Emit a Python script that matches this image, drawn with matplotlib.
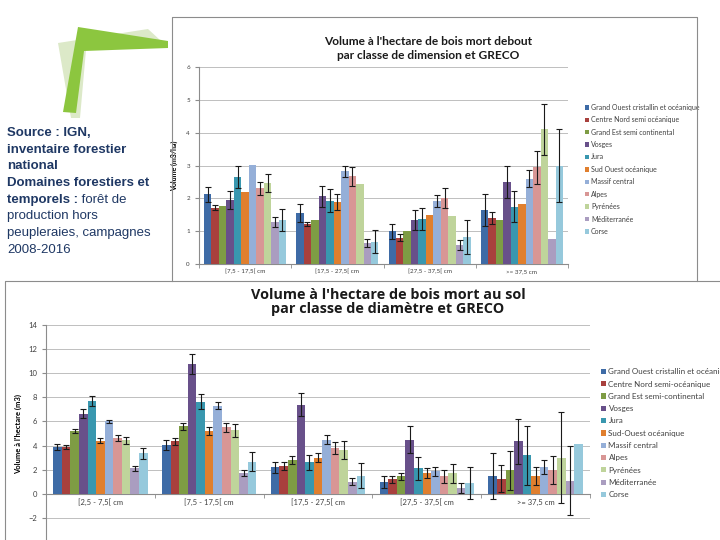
import numpy as np
import matplotlib
matplotlib.use('Agg')
import matplotlib.pyplot as plt
from matplotlib.patches import Polygon
from matplotlib.lines import Line2D

plt.rcParams['font.family'] = ['Lato', 'DejaVu Sans']

W, H = 720, 540
def fx(x): return x / W
def fy(y): return 1 - y / H

series = ["Grand Ouest cristallin et océanique", "Centre Nord semi océanique",
          "Grand Est semi continental", "Vosges", "Jura", "Sud Ouest océanique",
          "Massif central", "Alpes", "Pyrénées", "Méditerranée", "Corse"]
series_sol = ["Grand Ouest cristallin et océanique", "Centre Nord semi-océanique",
              "Grand Est semi-continental", "Vosges", "Jura", "Sud-Ouest océanique",
              "Massif central", "Alpes", "Pyrénées", "Méditerranée", "Corse"]
colors = ['#3E6BA6', '#A8403D', '#7E9C44', '#68508A', '#3997AF', '#E07F2E',
          '#95AFD8', '#D89695', '#BFD49B', '#AA9DC0', '#96C9DC']

# standing dead wood (m3/ha), one list per category, in series order
cats_debout = ["[7,5 - 17,5[ cm", "[17,5 - 27,5[ cm", "[27,5 - 37,5[ cm", ">= 37,5 cm"]
debout_vals = [
    [2.13, 1.72, 1.76, 1.95, 2.65, 2.18, 3.03, 2.31, 2.47, 1.27, 1.33],
    [1.55, 1.22, 1.33, 2.07, 1.93, 1.88, 2.83, 2.67, 2.43, 0.65, 0.68],
    [1.00, 0.80, 0.99, 1.35, 1.37, 1.50, 1.93, 2.00, 1.47, 0.57, 0.82],
    [1.65, 1.40, 1.33, 2.50, 1.75, 1.82, 2.60, 2.95, 4.10, 0.77, 3.00],
]
debout_err = [
    [0.23, 0.08, 0.00, 0.28, 0.35, 0.00, 0.00, 0.20, 0.28, 0.15, 0.33],
    [0.27, 0.07, 0.00, 0.32, 0.35, 0.24, 0.17, 0.28, 0.00, 0.12, 0.35],
    [0.23, 0.10, 0.00, 0.30, 0.33, 0.00, 0.18, 0.30, 0.00, 0.15, 0.52],
    [0.48, 0.17, 0.00, 0.50, 0.47, 0.00, 0.25, 0.50, 0.77, 0.00, 1.12],
]

# lying dead wood (m3/ha)
cats_sol = ["[2,5 - 7,5[ cm", "[7,5 - 17,5[ cm", "[17,5 - 27,5[ cm", "[27,5 - 37,5[ cm", ">= 37,5 cm"]
sol_vals = [
    [3.90, 3.90, 5.20, 6.65, 7.70, 4.40, 6.00, 4.60, 4.45, 2.10, 3.35],
    [4.05, 4.35, 5.60, 10.75, 7.65, 5.20, 7.30, 5.50, 5.25, 1.75, 2.65],
    [2.20, 2.30, 2.80, 7.40, 2.60, 3.00, 4.50, 3.80, 3.60, 1.00, 1.50],
    [1.00, 1.20, 1.45, 4.50, 2.10, 1.75, 1.85, 1.45, 1.70, 0.50, 0.90],
    [1.50, 1.25, 1.95, 4.35, 3.20, 1.50, 2.20, 2.00, 3.00, 1.10, 4.15],
]
sol_err = [
    [0.25, 0.15, 0.15, 0.35, 0.45, 0.20, 0.15, 0.25, 0.30, 0.20, 0.45],
    [0.45, 0.30, 0.30, 0.85, 0.65, 0.35, 0.30, 0.40, 0.55, 0.25, 0.80],
    [0.45, 0.30, 0.35, 0.95, 0.60, 0.40, 0.35, 0.50, 0.75, 0.30, 1.05],
    [0.50, 0.30, 0.30, 1.10, 0.95, 0.40, 0.40, 0.55, 0.80, 0.40, 1.35],
    [1.90, 1.10, 1.60, 1.85, 2.45, 0.75, 0.60, 1.15, 3.80, 2.85, 0.00],
]

fig = plt.figure(figsize=(7.2, 5.4), dpi=100)

# logo
light = [(58, 43), (148, 29), (160, 40), (86, 50), (80, 118), (71, 118)]
green = [(78, 27), (168, 41), (168, 48), (84, 51), (76, 113), (63, 112)]
fig.patches.append(Polygon([(fx(x), fy(y)) for x, y in light], closed=True,
                           transform=fig.transFigure, facecolor='#DCE9C8', edgecolor='none'))
fig.patches.append(Polygon([(fx(x), fy(y)) for x, y in green], closed=True,
                           transform=fig.transFigure, facecolor='#8CC63F', edgecolor='none'))

# panel borders
def fline(xs, ys):
    fig.lines.append(Line2D([fx(x) for x in xs], [fy(y) for y in ys],
                            transform=fig.transFigure, color='#8C8C8C', lw=0.8))
fline([172, 172, 697, 697], [281, 17, 17, 281])
fline([5, 5, 720], [545, 281, 281])

# source text
navy = '#1F3864'
src_font = ['Liberation Sans', 'DejaVu Sans']
lines = [("Source : IGN,", 'bold'), ("inventaire forestier", 'bold'), ("national", 'bold'),
         ("Domaines forestiers et", 'bold'), ("temporels :", 'bold'),
         ("production hors", 'normal'), ("peupleraies, campagnes", 'normal'),
         ("2008-2016", 'normal')]
tag = None
for i, (s, w) in enumerate(lines):
    t = fig.text(fx(7), fy(133 + i * 16.7), s, fontsize=9.5, fontweight=w, color=navy,
                 va='center', ha='left', family=src_font)
    if s == "temporels :":
        tag = t
rest = fig.text(0, fy(133 + 4 * 16.7), " forêt de", fontsize=9.5, color=navy,
                va='center', ha='left', family=src_font)

def bars(ax, cats, vals, errs, width, labels):
    vals = np.array(vals)
    errs = np.array(errs)
    x = np.arange(len(cats))
    n = len(labels)
    for j in range(n):
        pos = x - width * n / 2 + width * (j + 0.5)
        ax.bar(pos, vals[:, j], width, color=colors[j], zorder=3, label=labels[j])
        e = errs[:, j]
        m = e > 0
        ax.errorbar(pos[m], vals[m, j], yerr=e[m], fmt='none', ecolor='#1a1a1a',
                    elinewidth=0.8, capsize=2, capthick=0.8, zorder=4)
    ax.set_xlim(-0.5, len(cats) - 0.5)
    ax.set_xticks(x)
    ax.set_xticklabels(cats)
    ax.set_xticks(np.arange(len(cats) + 1) - 0.5, minor=True)
    ax.tick_params(axis='x', which='major', length=0, colors='#404040')
    ax.tick_params(axis='x', which='minor', length=3, color='#8C8C8C')
    ax.tick_params(axis='y', length=3, color='#8C8C8C', colors='#404040')
    ax.grid(axis='y', color='#BFBFBF', lw=0.7, zorder=0)
    for s in ['top', 'right']:
        ax.spines[s].set_visible(False)
    for s in ['left', 'bottom']:
        ax.spines[s].set_color('#8C8C8C')
        ax.spines[s].set_linewidth(0.8)

# top chart
ax1 = fig.add_axes([fx(199), fy(264), fx(568) - fx(199), fy(67) - fy(264)])
bars(ax1, cats_debout, debout_vals, debout_err, 0.081, series)
ax1.set_ylim(0, 6)
ax1.set_yticks(range(0, 7))
ax1.tick_params(labelsize=4.5)
ax1.set_ylabel("Volume (m3/ha)", fontsize=5, fontweight='bold', labelpad=6)
fig.text(fx(428), fy(48.5), "Volume à l'hectare de bois mort debout\npar classe de dimension et GRECO",
         fontsize=8.6, fontweight='bold', ha='center', va='center', multialignment='center',
         linespacing=1.25, color='#1a1a1a')
ax1.legend(loc='upper left', bbox_to_anchor=(fx(582), fy(101)), bbox_transform=fig.transFigure,
           fontsize=5, frameon=False, handlelength=0.6, handleheight=0.6, handletextpad=0.3,
           labelspacing=0.78, borderaxespad=0, labelcolor='#404040')

# bottom chart
ax2 = fig.add_axes([fx(46), fy(542), fx(590) - fx(46), fy(325) - fy(542)])
bars(ax2, cats_sol, sol_vals, sol_err, 0.079, series_sol)
ax2.set_ylim(-4, 14)
ax2.set_yticks(range(-2, 15, 2))
ax2.spines['bottom'].set_position(('data', 0))
ax2.tick_params(labelsize=5.5)
ax2.set_ylabel("Volume à l'hectare (m3)", fontsize=5.5, fontweight='bold', labelpad=4)
fig.text(fx(388), fy(302), "Volume à l'hectare de bois mort au sol\npar classe de diamètre et GRECO",
         fontsize=10.4, fontweight='bold', ha='center', va='center', multialignment='center',
         linespacing=0.98, color='#1a1a1a', family=['Open Sans', 'DejaVu Sans'])
ax2.legend(loc='upper left', bbox_to_anchor=(fx(598), fy(365)),
           bbox_transform=fig.transFigure, fontsize=5.8, frameon=False, handlelength=0.6,
           handleheight=0.6, handletextpad=0.3, labelspacing=0.66, borderaxespad=0,
           labelcolor='#404040')

# place the regular part right after the bold "temporels :"
fig.canvas.draw()
bb = tag.get_window_extent()
rest.set_x(bb.x1 / fig.bbox.width)

fig.savefig('out.png', dpi=100)
